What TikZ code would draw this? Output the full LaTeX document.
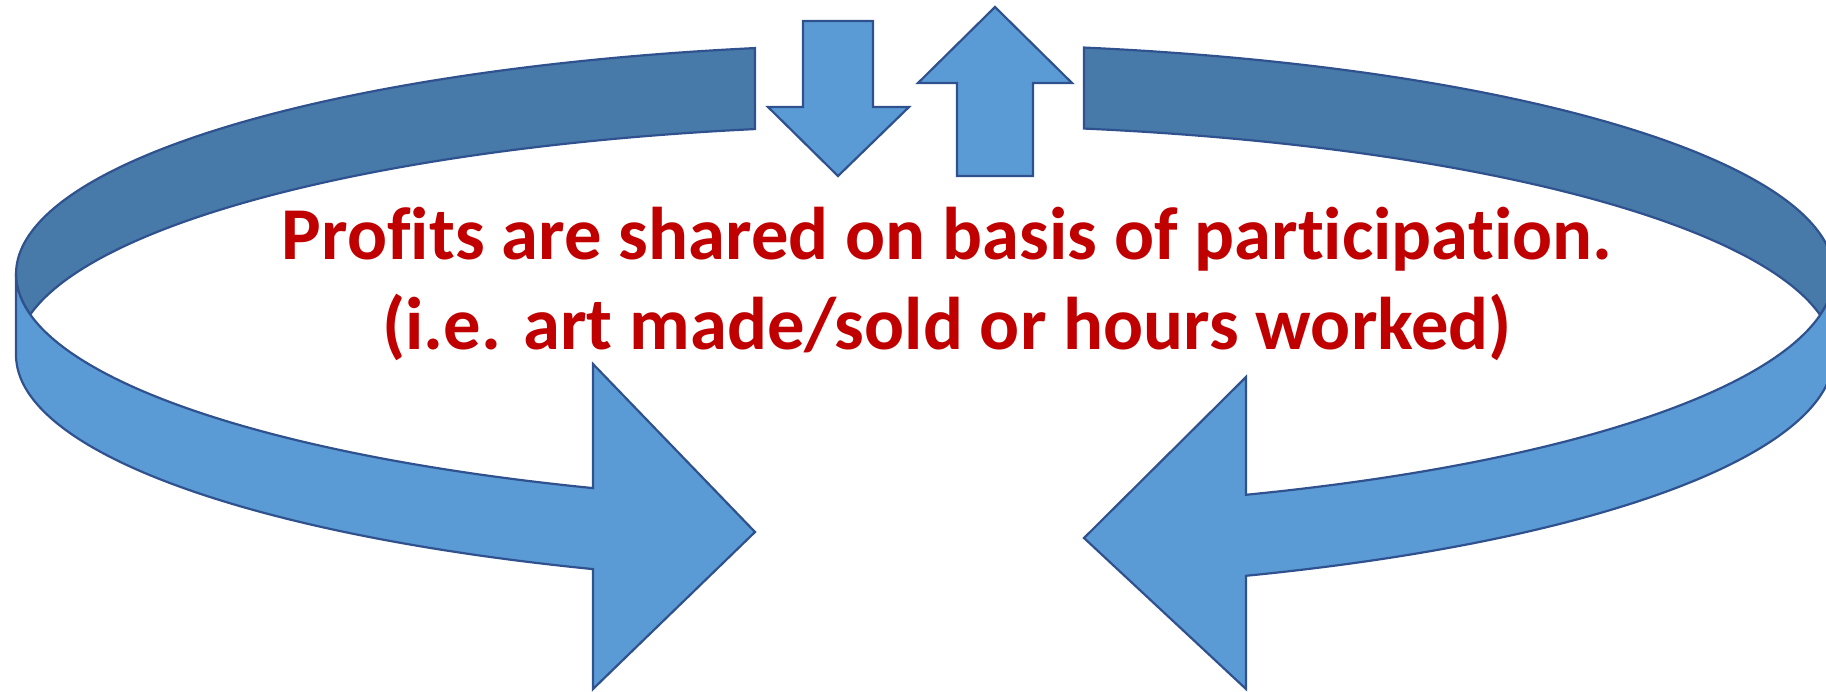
\documentclass[tikz,border=0pt]{standalone}
\usepackage{fontspec}
\setmainfont{Carlito}[Ligatures=NoCommon]
\definecolor{arrowfill}{HTML}{5B9BD5}
\definecolor{arrowdark}{HTML}{477AA9}
\definecolor{arrowline}{HTML}{2F528F}
\definecolor{textred}{HTML}{C00000}
\begin{document}
\begin{tikzpicture}[x=0.5pt,y=-0.5pt,
  band/.style={fill=arrowfill, draw=arrowline, line width=1.1pt, line join=miter},
  backband/.style={band, fill=arrowdark},
  redtext/.style={text=textred, font=\fontsize{37.3}{45}\selectfont\bfseries, inner sep=0pt, anchor=base}]
\useasboundingbox (0,0) rectangle (1826,691);

% ---- left circular arrow ----
\path[backband]
  plot[variable=\t, domain=259.22:169.86, samples=90] ({925+909*cos(\t)},{274+230*sin(\t)})
  -- plot[variable=\t, domain=190.14:259.22, samples=90] ({925+909*cos(\t)},{355+230*sin(\t)})
  -- cycle;
\path[band]
  plot[variable=\t, domain=180:111.42, samples=90] ({925+909*cos(\t)},{355+230*sin(\t)})
  -- (593,689) -- (755,532) -- (593,364)
  -- plot[variable=\t, domain=111.42:180, samples=90] ({925+909*cos(\t)},{274+230*sin(\t)})
  -- cycle;

% ---- right circular arrow ----
\path[backband]
  plot[variable=\t, domain=280.07:360, samples=90] ({925+909*cos(\t)},{274+230*sin(\t)})
  -- plot[variable=\t, domain=0:10.01, samples=20] ({925+909*cos(\t)},{274+236*sin(\t)})
  -- plot[variable=\t, domain=349.99:280.07, samples=90] ({925+909*cos(\t)},{355+230*sin(\t)})
  -- cycle;
\path[band]
  plot[variable=\t, domain=0:69.32, samples=90] ({925+909*cos(\t)},{355+236*sin(\t)})
  -- (1246,689) -- (1084,538) -- (1246,377)
  -- plot[variable=\t, domain=69.32:0, samples=90] ({925+909*cos(\t)},{274+236*sin(\t)})
  -- cycle;

% ---- small block arrows ----
\path[band] (803,21) -- (873,21) -- (873,107) -- (909,107) -- (838,176)
  -- (768,107) -- (803,107) -- cycle;
\path[band] (995,7) -- (1072,83) -- (1033,83) -- (1033,176) -- (957,176)
  -- (957,83) -- (918,83) -- cycle;

% ---- text ----
\node[redtext] (line1) at (947,259) {Profits are shared on basis of participation.};
\node[redtext] (line2) at (947,349) {(i.e. art made/sold or hours worked)};
\end{tikzpicture}
\end{document}
